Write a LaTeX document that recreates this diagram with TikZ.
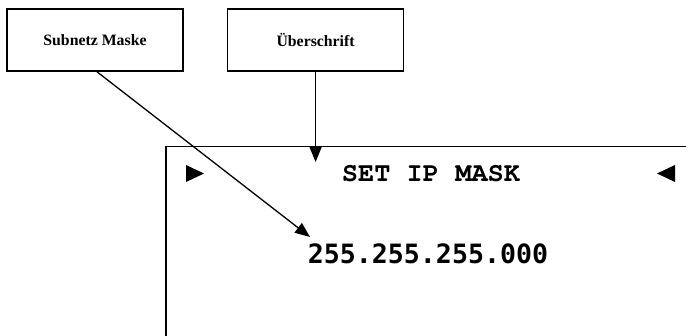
\documentclass[tikz,border=0pt]{standalone}
\usepackage{fontspec}
\setmainfont{Liberation Serif}
\newfontfamily\courierfont{texgyrecursor-bold.otf}
\newfontfamily\digitfont{DejaVu Sans Mono}
\usetikzlibrary{positioning,arrows.meta}

\begin{document}
\begin{tikzpicture}[x=1pt,y=-1pt,
  label box/.style={rectangle,draw,line width=1.6pt,minimum width=176pt,minimum height=62pt,inner sep=0pt,font=\fontsize{15.8}{18}\selectfont\bfseries},
  pointer/.style={-{Triangle[length=15pt,width=12pt]},line width=1.3pt},
  lcd/.style={inner sep=0pt,anchor=base},
]
\useasboundingbox (0,0) rectangle (686,336);

% Label boxes
\node[label box] (mask) at (95,40) {Subnetz Maske};
\node[label box,right=43pt of mask] (head) {Überschrift};

% Display frame
\draw[line width=1.7pt] (686,146.5) -- (166,146.5) -- (166,337);

% Display contents
\fill (186,165) -- (204,173.5) -- (186,182) -- cycle;
\fill (675,165) -- (657,173.5) -- (675,182) -- cycle;
\node[lcd,font=\courierfont\fontsize{27}{30}\selectfont] (title) at (431,182) {SET IP MASK};
\node[lcd,font=\digitfont\fontsize{26.6}{30}\selectfont\bfseries] (value) at (428,264) {255.255.255.000};
\coordinate (valuetip) at (310,237);
\coordinate (titletip) at (head.south |- 0,162);

% Pointers
\draw[pointer] ([xshift=2pt]mask.south) -- (valuetip);
\draw[pointer] (head.south) -- (titletip);

\end{tikzpicture}
\end{document}
